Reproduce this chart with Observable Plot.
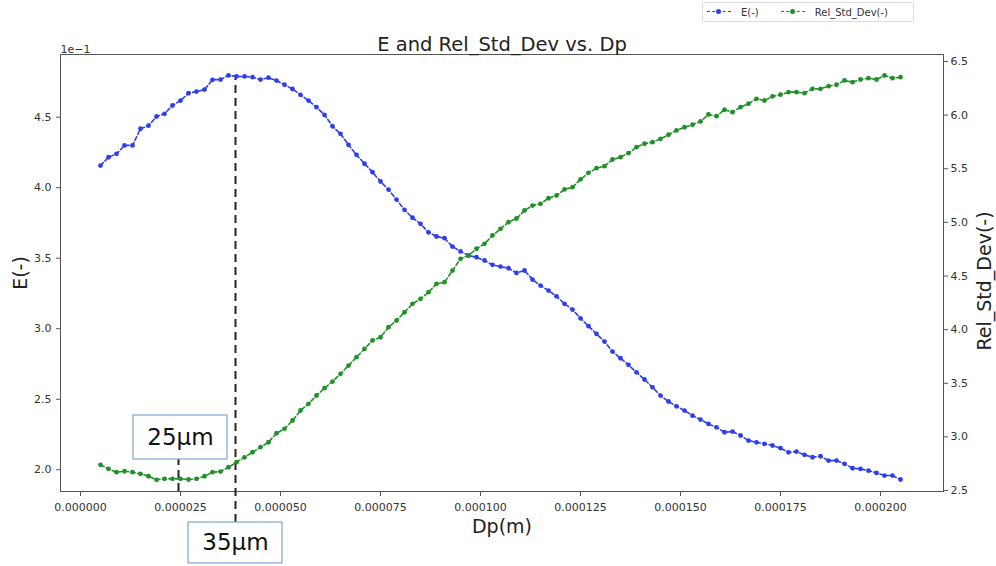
<!DOCTYPE html>
<html>
<head>
<meta charset="utf-8">
<script src="https://cdn.jsdelivr.net/npm/d3@7"></script>
<script src="https://cdn.jsdelivr.net/npm/@observablehq/plot@0.6"></script>
<style>
  html, body { margin: 0; padding: 0; background: #fff; }
  #wrap { position: relative; width: 996px; height: 566px; font-family: "DejaVu Sans", sans-serif; }
  #legend {
    position: absolute; left: 702px; top: 2px; width: 212px; height: 20px;
    border: 1px solid #dcdcdc; border-radius: 2px; background: #fff;
    display: flex; align-items: center; font-size: 10px; color: #333; box-sizing: border-box;
  }
  .sym { position: relative; width: 24px; height: 10px; margin-left: 4px; margin-right: 10px; }
  .sym .ln { position: absolute; left: 0; right: 0; top: 4px; border-top: 1.5px dashed; }
  .sym .dt { position: absolute; left: 9px; top: 2px; width: 5px; height: 5px; border-radius: 50%; }
</style>
</head>
<body>
<div id="wrap">
  <div id="legend"></div>
</div>
<script>
// ---- data ----
const dpMicron = [5,7,9,11,13,15,17,19,21,23,25,27,29,31,33,35,37,39,41,43,45,47,49,51,53,55,57,59,61,63,65,67,69,71,73,75,77,79,81,83,85,87,89,91,93,95,97,99,101,103,105,107,109,111,113,115,117,119,121,123,125,127,129,131,133,135,137,139,141,143,145,147,149,151,153,155,157,159,161,163,165,167,169,171,173,175,177,179,181,183,185,187,189,191,193,195,197,199,201,203,205];

const eValues = [
  0.4157,0.4216,0.4240,0.4300,0.4300,0.4418,0.4440,0.4505,0.4524,0.4583,
  0.4618,0.4670,0.4682,0.4696,0.4765,0.4767,0.4796,0.4789,0.4789,0.4784,
  0.4767,0.4780,0.4760,0.4730,0.4700,0.4659,0.4618,0.4571,0.4517,0.4436,
  0.4382,0.4304,0.4233,0.4170,0.4110,0.4044,0.3987,0.3916,0.3843,0.3787,
  0.3744,0.3684,0.3654,0.3642,0.3583,0.3548,0.3519,0.3507,0.3484,0.3453,
  0.3441,0.3429,0.3396,0.3413,0.3349,0.3306,0.3271,0.3230,0.3177,0.3136,
  0.3074,0.3018,0.2964,0.2909,0.2838,0.2791,0.2744,0.2691,0.2640,0.2585,
  0.2526,0.2484,0.2450,0.2420,0.2384,0.2356,0.2325,0.2301,0.2266,0.2271,
  0.2243,0.2207,0.2195,0.2184,0.2172,0.2153,0.2124,0.2129,0.2106,0.2089,
  0.2096,0.2065,0.2065,0.2042,0.2011,0.2006,0.1994,0.1978,0.1959,0.1959,
  0.1931
];

const relValues = [
  2.740,2.702,2.671,2.680,2.671,2.656,2.633,2.600,2.609,2.609,
  2.609,2.603,2.609,2.633,2.671,2.677,2.717,2.764,2.810,2.857,
  2.904,2.950,3.034,3.075,3.153,3.246,3.308,3.386,3.454,3.516,
  3.588,3.665,3.743,3.821,3.899,3.929,4.023,4.085,4.162,4.241,
  4.287,4.349,4.427,4.442,4.551,4.660,4.691,4.754,4.800,4.878,
  4.940,5.002,5.036,5.111,5.157,5.173,5.225,5.251,5.307,5.328,
  5.400,5.462,5.505,5.524,5.586,5.608,5.645,5.701,5.733,5.748,
  5.779,5.817,5.857,5.887,5.910,5.941,6.006,5.990,6.050,6.027,
  6.074,6.106,6.152,6.136,6.174,6.190,6.214,6.214,6.204,6.245,
  6.245,6.270,6.283,6.323,6.307,6.332,6.344,6.332,6.369,6.344,
  6.354
];

const xTicks = [0, 0.000025, 0.00005, 0.000075, 0.0001, 0.000125, 0.00015, 0.000175, 0.0002];
const eTicks = [0.20, 0.25, 0.30, 0.35, 0.40, 0.45];
const relTicks = [2.5, 3.0, 3.5, 4.0, 4.5, 5.0, 5.5, 6.0, 6.5];

// axis limits (like matplotlib xlim / ylim / twin ylim)
const xLimits = [-0.000005, 0.00021575];
const eLimits = [0.1846, 0.49446];
const relLimits = [2.491, 6.565];

// annotations: vertical dashed markers and labelled boxes (data units)
const markerRules = [
  {dp: 0.0000245, from: 0.1846, to: 0.2073},
  {dp: 0.00003875, from: 0.1626, to: 0.4775}
];
const labelBoxes = [
  {label: "25µm", x1: 0.00001325, x2: 0.00003675, y1: 0.2073, y2: 0.2385, xc: 0.000025, yc: 0.2229},
  {label: "35µm", x1: 0.000027, x2: 0.0000505, y1: 0.1336, y2: 0.1626, xc: 0.00003875, yc: 0.1481}
];

const blue = "#2f3fe8";
const green = "#22902a";

// ---- build ----
const relToE = d3.scaleLinear().domain(relLimits).range(eLimits);
const rows = dpMicron.map((d, i) => ({dp: d * 1e-6, E: eValues[i], rel: relValues[i]}));

const plot = Plot.plot({
  width: 996,
  height: 566,
  marginLeft: 60,
  marginRight: 53,
  marginTop: 54,
  marginBottom: 75,
  style: {fontFamily: "DejaVu Sans, sans-serif", fontSize: "11px", color: "#333", background: "transparent", overflow: "visible"},
  x: {domain: xLimits, axis: null},
  y: {domain: eLimits, axis: null},
  marks: [
    Plot.axisX(xTicks, {anchor: "bottom", tickSize: 5, tickPadding: 7, tickFormat: d => d.toFixed(6), label: null, stroke: "#555"}),
    Plot.axisY(eTicks, {anchor: "left", tickSize: 4, tickPadding: 5, tickFormat: d => (d * 10).toFixed(1), label: null, stroke: "#555"}),
    Plot.axisY(relTicks.map(v => relToE(v)), {anchor: "right", tickSize: 4, tickPadding: 3, tickFormat: d => relToE.invert(d).toFixed(1), label: null, stroke: "#555"}),
    Plot.frame({stroke: "#555", strokeWidth: 1}),
    Plot.ruleX(markerRules, {x: "dp", y1: "from", y2: "to", stroke: "#222", strokeWidth: 2, strokeDasharray: "8,5"}),
    Plot.line(rows, {x: "dp", y: "E", stroke: blue, strokeWidth: 1.6, strokeDasharray: "4,2.5"}),
    Plot.dot(rows, {x: "dp", y: "E", r: 2.4, fill: blue, stroke: null}),
    Plot.line(rows, {x: "dp", y: d => relToE(d.rel), stroke: green, strokeWidth: 1.6, strokeDasharray: "4,2.5"}),
    Plot.dot(rows, {x: "dp", y: d => relToE(d.rel), r: 2.4, fill: green, stroke: null}),
    Plot.rect(labelBoxes, {x1: "x1", x2: "x2", y1: "y1", y2: "y2", fill: "white", stroke: "#7fa7d3", strokeWidth: 1.2}),
    Plot.text(labelBoxes, {x: "xc", y: "yc", text: "label", fontSize: 23, fill: "#111"}),
    Plot.text(["E and Rel_Std_Dev vs. Dp"], {text: d => d, frameAnchor: "top", lineAnchor: "bottom", dy: -4, fontSize: 19.5, fill: "#222"}),
    Plot.text(["1e\u22121"], {text: d => d, frameAnchor: "top-left", textAnchor: "start", lineAnchor: "bottom", dy: -2, fontSize: 11, fill: "#333"}),
    Plot.text(["E(-)"], {text: d => d, frameAnchor: "left", textAnchor: "middle", dx: -40, rotate: -90, fontSize: 19, fill: "#222"}),
    Plot.text(["Rel_Std_Dev(-)"], {text: d => d, frameAnchor: "right", textAnchor: "middle", dx: 41, dy: 8, rotate: -90, fontSize: 19, fill: "#222"}),
    Plot.text(["Dp(m)"], {text: d => d, frameAnchor: "bottom", dy: 41, fontSize: 19, fill: "#222"})
  ]
});

const wrap = document.getElementById("wrap");
plot.style.position = "absolute";
plot.style.left = "0px";
plot.style.top = "0px";
wrap.insertBefore(plot, wrap.firstChild);

// legend
const legendItems = [{label: "E(-)", color: blue}, {label: "Rel_Std_Dev(-)", color: green}];
const legend = document.getElementById("legend");
legendItems.forEach((it, i) => {
  const sym = document.createElement("span");
  sym.className = "sym";
  if (i > 0) sym.style.marginLeft = "22px";
  const ln = document.createElement("span"); ln.className = "ln"; ln.style.borderColor = it.color;
  const dt = document.createElement("span"); dt.className = "dt"; dt.style.background = it.color;
  sym.appendChild(ln); sym.appendChild(dt);
  const lab = document.createElement("span"); lab.textContent = it.label;
  legend.appendChild(sym); legend.appendChild(lab);
});
</script>
</body>
</html>
